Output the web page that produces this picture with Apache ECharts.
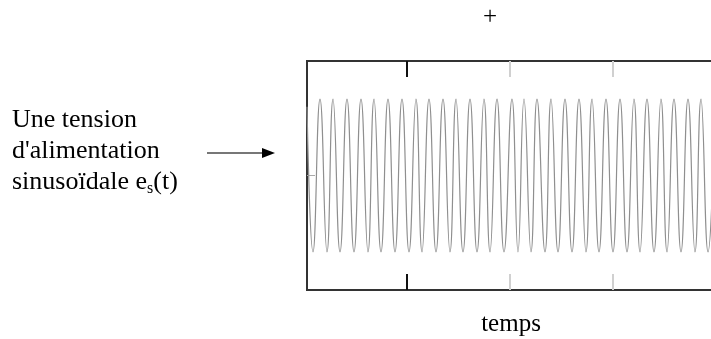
<!DOCTYPE html>
<html>
<head>
<meta charset="utf-8">
<script src="https://cdn.jsdelivr.net/npm/echarts@6/dist/echarts.min.js"></script>
<style>
html,body{margin:0;padding:0;background:#fff;}
#main{width:711px;height:339px;}
</style>
</head>
<body>
<div id="main"></div>
<script>
// instants des extremums (unité = px depuis le bord gauche du cadre)
var temps = [0, 6, 13, 20, 26, 33, 40, 47, 54, 61, 67, 74, 81, 88, 95, 102, 109, 115, 122, 129, 136,
  143, 149, 156, 163, 170, 177, 183, 190, 197, 205, 211, 217, 224, 230, 238, 244, 251, 258, 265, 272,
  279, 285, 292, 299, 306, 313, 320, 327, 333, 340, 347, 354, 360, 367, 374, 381, 388, 394, 401, 408];
var tension = [0.9, -1, 1, -1, 1, -1, 1, -1, 1, -1, 1, -1, 1, -1, 1, -1, 1, -1, 1, -1, 1,
  -1, 1, -1, 1, -1, 1, -1, 1, -1, 1, -1, 1, -1, 1, -1, 1, -1, 1, -1, 1,
  -1, 1, -1, 1, -1, 1, -1, 1, -1, 1, -1, 1, -1, 1, -1, 1, -1, 1, -1, 1];
var graduationsNoires = [100];
var graduationsGrises = [203, 306];

var serif = '"Liberation Serif", "DejaVu Serif", serif';
var myChart = echarts.init(document.getElementById('main'));

var lignes = [];
for (var i = 0; i < temps.length; i++) {
  lignes.push([temps[i], tension[i]]);
}

function axeX(pos, vals, couleur, ligne) {
  return {
    type: 'value', position: pos, min: 0, max: 412,
    axisLine: {show: ligne, onZero: false, lineStyle: {color: '#333', width: 2}},
    axisTick: {show: true, inside: true, length: 16, customValues: vals,
      lineStyle: {color: couleur, width: 2}},
    axisLabel: {show: false},
    splitLine: {show: false}
  };
}

var option = {
  animation: false,
  grid: {left: 307, top: 61, width: 412, height: 229, show: true,
    outerBoundsMode: 'none', containLabel: false,
    borderColor: '#333', borderWidth: 2},
  xAxis: [
    axeX('bottom', graduationsNoires, '#111', true),
    axeX('bottom', graduationsGrises, '#d0d0d0', false),
    axeX('top', graduationsNoires, '#111', true),
    axeX('top', graduationsGrises, '#d0d0d0', false)
  ],
  yAxis: [
    {type: 'value', position: 'left', min: -1.5, max: 1.5,
      axisLine: {show: false}, axisLabel: {show: false}, splitLine: {show: false},
      axisTick: {show: true, inside: true, length: 8, customValues: [0],
        lineStyle: {color: '#aaa', width: 1}}}
  ],
  series: [{
    type: 'line', xAxisIndex: 0, data: lignes, smooth: 0.5, showSymbol: false,
    lineStyle: {color: '#8f8f8f', width: 1.2}
  }],
  graphic: [
    {type: 'text', left: 12, top: 105, style: {
      text: 'Une tension\nd\'alimentation\n{a|sinusoïdale e}{s|s}{a|(t)}',
      font: '26px ' + serif, fill: '#000', lineHeight: 31,
      rich: {a: {fontSize: 26, fontFamily: serif, lineHeight: 31},
             s: {fontSize: 16, fontFamily: serif, padding: [12, 0, 0, 0], lineHeight: 31}}}},
    {type: 'line', shape: {x1: 207, y1: 153, x2: 264, y2: 153},
      style: {stroke: '#777', lineWidth: 2}},
    {type: 'polygon', shape: {points: [[262, 148], [275, 153], [262, 158]]},
      style: {fill: '#000'}},
    {type: 'text', x: 490, y: 17, style: {text: '+', font: '25px ' + serif, fill: '#000',
      align: 'center', verticalAlign: 'middle'}},
    {type: 'text', x: 511, y: 324, style: {text: 'temps', font: '25px ' + serif, fill: '#000',
      align: 'center', verticalAlign: 'middle'}}
  ]
};
myChart.setOption(option);
</script>
</body>
</html>
